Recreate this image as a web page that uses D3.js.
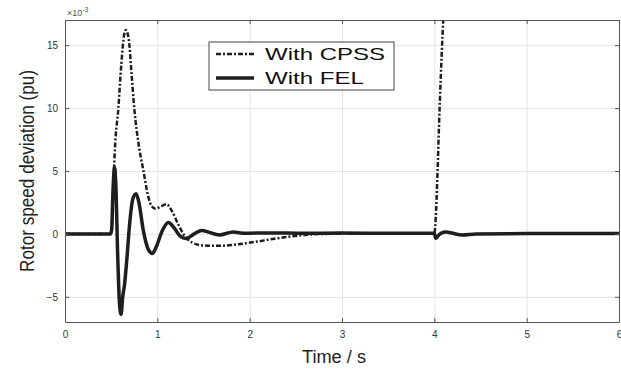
<!DOCTYPE html>
<html>
<head>
<meta charset="utf-8">
<script src="https://cdn.jsdelivr.net/npm/d3@7"></script>
<style>
  html, body { margin: 0; padding: 0; background: #fff; }
  svg { display: block; font-family: "Liberation Sans", Arial, sans-serif; }
</style>
</head>
<body>
<div id="chart"></div>
<script>
// time (s) and rotor speed deviation (x1e-3 pu)
const felTime = [0, 0.49, 0.505, 0.52, 0.537, 0.55, 0.57, 0.59, 0.607, 0.625, 0.645, 0.67, 0.70, 0.735, 0.77, 0.80, 0.85, 0.90, 0.945, 0.99, 1.05, 1.12, 1.18, 1.25, 1.31, 1.40, 1.48, 1.57, 1.67, 1.82, 1.95, 2.2, 2.6, 3.0, 3.5, 4.0, 4.015, 4.03, 4.07, 4.13, 4.2, 4.3, 4.45, 5, 6];
const felValue = [0, 0, 0.3, 3.5, 5.3, 4.0, -1.5, -5.5, -6.4, -5.0, -4.0, -2.0, 0.8, 2.8, 3.2, 2.5, 0.2, -1.2, -1.55, -1.0, 0.2, 0.9, 0.5, -0.2, -0.36, 0.0, 0.28, 0.1, -0.08, 0.15, 0.05, 0.08, 0.05, 0.07, 0.05, 0.05, -0.35, -0.25, 0.05, 0.15, 0.05, -0.08, 0.0, 0.03, 0.03];

const cpssTime = [0, 0.49, 0.505, 0.52, 0.54, 0.578, 0.61, 0.64, 0.66, 0.69, 0.72, 0.75, 0.80, 0.85, 0.90, 0.94, 0.98, 1.04, 1.10, 1.16, 1.23, 1.30, 1.38, 1.5, 1.62, 1.75, 1.9, 2.08, 2.25, 2.44, 2.6, 2.8, 3.2, 3.6, 4.0, 4.02, 4.035, 4.05, 4.07, 4.09, 4.11];
const cpssValue = [0, 0, 0.3, 3, 6.7, 10, 13.5, 15.8, 16.2, 15.5, 12.8, 10, 7, 5, 3.0, 2.2, 2.0, 2.2, 2.36, 1.8, 0.7, -0.2, -0.7, -0.92, -0.95, -0.92, -0.8, -0.61, -0.4, -0.21, -0.08, 0, 0.03, 0.03, 0.02, 2, 5, 8.5, 12.5, 16, 19];

const xTicks = [0, 1, 2, 3, 4, 5, 6];
const yTicks = [-5, 0, 5, 10, 15];
const legendLabels = ['With CPSS', 'With FEL'];

const W = 621, H = 371;
const margin = { top: 20, right: 2, bottom: 49, left: 65 };
const width = W - margin.left - margin.right;
const height = H - margin.top - margin.bottom;

const svg = d3.select('#chart').append('svg')
  .attr('width', W)
  .attr('height', H);

const g = svg.append('g')
  .attr('transform', `translate(${margin.left},${margin.top})`);

const x = d3.scaleLinear().domain([0, 6]).range([0, width]);
const y = d3.scaleLinear().domain([-7, 17]).range([height, 0]);

// --- Gridlines ---
g.append('g')
  .call(d3.axisBottom(x).tickValues(xTicks).tickSize(height).tickFormat(''))
  .call(s => s.select('.domain').remove())
  .selectAll('line').attr('stroke', '#e4e4e4');
g.append('g')
  .call(d3.axisLeft(y).tickValues(yTicks).tickSize(-width).tickFormat(''))
  .call(s => s.select('.domain').remove())
  .selectAll('line').attr('stroke', '#e4e4e4');

// --- Lines ---
g.append('clipPath').attr('id', 'clip')
  .append('rect').attr('width', width).attr('height', height);

const line = d3.line()
  .x(d => x(d[0]))
  .y(d => y(d[1]))
  .curve(d3.curveMonotoneX);

const cpss = cpssTime.map((t, i) => [t, cpssValue[i]]);
const fel = felTime.map((t, i) => [t, felValue[i]]);

g.append('path')
  .datum(cpss)
  .attr('clip-path', 'url(#clip)')
  .attr('fill', 'none')
  .attr('stroke', '#1e1e1e')
  .attr('stroke-width', 2.5)
  .attr('stroke-dasharray', '5,2,2,2')
  .attr('d', line);

g.append('path')
  .datum(fel)
  .attr('clip-path', 'url(#clip)')
  .attr('fill', 'none')
  .attr('stroke', '#1e1e1e')
  .attr('stroke-width', 3.5)
  .attr('stroke-linejoin', 'round')
  .attr('d', line);

// --- Axes (box with inner ticks on all sides) ---
const axisColor = '#555';
const xAxis = g.append('g')
  .attr('transform', `translate(0,${height})`)
  .call(d3.axisBottom(x).tickValues(xTicks).tickSizeInner(-4).tickSizeOuter(0).tickPadding(9).tickFormat(d3.format('d')));
const yAxis = g.append('g')
  .call(d3.axisLeft(y).tickValues(yTicks).tickSizeInner(-4).tickSizeOuter(0).tickPadding(7).tickFormat(d3.format('d')));
const topAxis = g.append('g')
  .call(d3.axisTop(x).tickValues(xTicks).tickSizeInner(-4).tickSizeOuter(0).tickFormat(''));
const rightAxis = g.append('g')
  .attr('transform', `translate(${width},0)`)
  .call(d3.axisRight(y).tickValues(yTicks).tickSizeInner(-4).tickSizeOuter(0).tickFormat(''));

[xAxis, yAxis, topAxis, rightAxis].forEach(a => {
  a.selectAll('path, line').attr('stroke', axisColor);
  a.selectAll('text').attr('fill', '#333').style('font-size', '10px')
    .style('font-family', '"Liberation Sans", Arial, sans-serif');
});

// exponent label
const expo = g.append('text')
  .attr('x', 2)
  .attr('y', -4)
  .attr('fill', '#555')
  .style('font-size', '9px');
expo.append('tspan').text('\u00d710');
expo.append('tspan').attr('dy', -4).style('font-size', '7px').text('-3');

// --- Axis titles ---
svg.append('text')
  .attr('x', 329 + 5)
  .attr('y', 363)
  .attr('text-anchor', 'middle')
  .attr('fill', '#222')
  .attr('textLength', 64)
  .attr('lengthAdjust', 'spacingAndGlyphs')
  .style('font-size', '18px')
  .text('Time / s');

svg.append('text')
  .attr('transform', 'translate(34,171) rotate(-90)')
  .attr('text-anchor', 'middle')
  .attr('fill', '#222')
  .attr('textLength', 202)
  .attr('lengthAdjust', 'spacingAndGlyphs')
  .style('font-size', '20px')
  .text('Rotor speed deviation (pu)');

// --- Legend ---
const legend = svg.append('g').attr('transform', 'translate(209,42)');
legend.append('rect')
  .attr('width', 185).attr('height', 48)
  .attr('fill', '#fff').attr('stroke', '#444').attr('stroke-width', 1);

const legendDash = ['5,2,2,2', null];
const legendWidth = [2.5, 3.5];
const legendTextLen = [120, 99];
legendLabels.forEach((label, i) => {
  const row = legend.append('g').attr('transform', `translate(0,${12 + i * 24})`);
  row.append('line')
    .attr('x1', 7).attr('x2', 45)
    .attr('stroke', '#1e1e1e')
    .attr('stroke-width', legendWidth[i])
    .attr('stroke-dasharray', legendDash[i]);
  row.append('text')
    .attr('x', 56).attr('y', 6)
    .attr('fill', '#111')
    .attr('textLength', legendTextLen[i])
    .attr('lengthAdjust', 'spacingAndGlyphs')
    .style('font-size', '17px')
    .text(label);
});
</script>
</body>
</html>
